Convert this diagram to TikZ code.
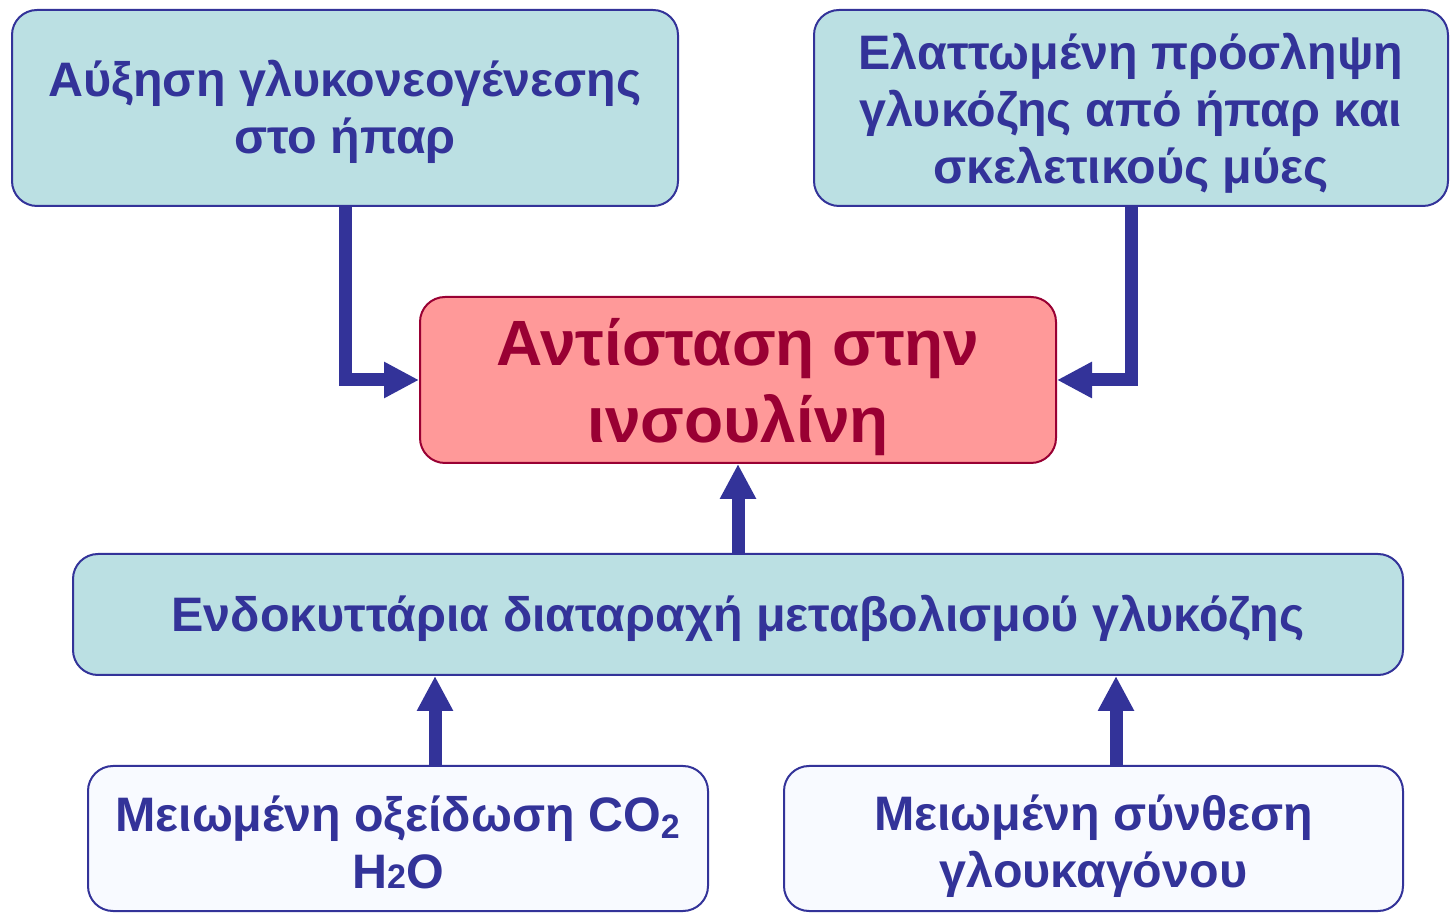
\documentclass[tikz,border=0pt]{standalone}
\usepackage{fontspec}
\setmainfont{Liberation Sans}
\usepackage{tikz}
\usetikzlibrary{arrows.meta, positioning}
\usepackage{xcolor}
\definecolor{boxcyan}{RGB}{187,224,227}
\definecolor{boxblue}{RGB}{51,51,153}
\definecolor{boxpink}{RGB}{255,153,153}
\definecolor{boxmaroon}{RGB}{153,0,51}
\definecolor{boxwhite}{RGB}{248,250,255}
\newcommand{\boxgap}[1]{\rule{0pt}{#1}}
\tikzset{cyanbox/.style={rectangle, rounded corners=12.5pt, fill=boxcyan, draw=boxblue, line width=1pt, text=boxblue, align=center, font=\fontsize{24.2pt}{28.5pt}\selectfont\bfseries, inner sep=0pt},whitebox/.style={cyanbox, fill=boxwhite}}
\tikzset{redbox/.style={rectangle, rounded corners=12.5pt, fill=boxpink, draw=boxmaroon, line width=1pt, text=boxmaroon, align=center, font=\fontsize{32pt}{38.5pt}\selectfont\bfseries, inner sep=0pt},bluearrow/.style={draw=boxblue, line width=6.5pt, -{Triangle[length=17.5pt, width=17pt]}}}

\begin{document}
\begin{tikzpicture}[x=0.5pt, y=-0.5pt]
        \useasboundingbox (0,0) rectangle (1451,913);
        % Boxes
        \node[cyanbox, minimum width=333pt, minimum height=98pt] (gluco) at (345,108) {\boxgap{22.5pt}Αύξηση γλυκονεογένεσης\\στο ήπαρ};
        \node[cyanbox, minimum width=317pt, minimum height=98pt] (uptake) at (1131,108) {\boxgap{23.5pt}Ελαττωμένη πρόσληψη\\γλυκόζης από ήπαρ και\\σκελετικούς μύες};
        \node[redbox, minimum width=318pt, minimum height=83pt] (resist) at (738,380) {\boxgap{30.5pt}Αντίσταση στην\\ινσουλίνη};
        \node[cyanbox, minimum width=665pt, minimum height=60.5pt] (metab) at (738,614.5) {\boxgap{22.5pt}Ενδοκυττάρια διαταραχή μεταβολισμού γλυκόζης};
        \node[whitebox, minimum width=310pt, minimum height=72.5pt] (oxid) at (398,838.5) {\boxgap{21.5pt}Μειωμένη οξείδωση CO\textsubscript{2}\\H{\fontsize{17pt}{20pt}\selectfont 2}O};
        \node[whitebox, minimum width=309.5pt, minimum height=72.5pt] (glucag) at (1093.5,838.5) {\boxgap{26pt}Μειωμένη σύνθεση\\γλουκαγόνου};
        % Arrows
        \draw[bluearrow] (gluco.south) |- (resist.west);
        \draw[bluearrow] (uptake.south) |- (resist.east);
        \draw[bluearrow] (metab.north) -- (resist.south);
        \draw[bluearrow] ([xshift=18.5pt]oxid.north) -- ([xshift=18.5pt]oxid.north |- metab.south);
        \draw[bluearrow] ([xshift=11.25pt]glucag.north) -- ([xshift=11.25pt]glucag.north |- metab.south);
    \end{tikzpicture}
\end{document}
